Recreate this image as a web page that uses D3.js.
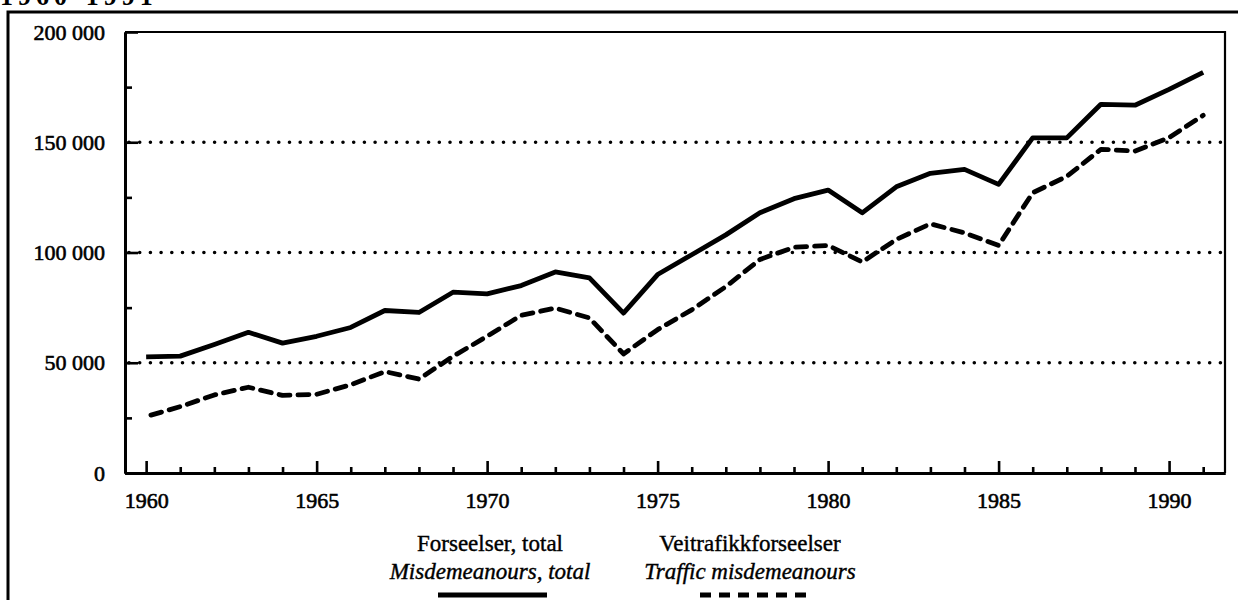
<!DOCTYPE html>
<html>
<head>
<meta charset="utf-8">
<script src="https://cdn.jsdelivr.net/npm/d3@7"></script>
<style>
  html, body { margin: 0; padding: 0; background: #fff; overflow: hidden; }
  svg { display: block; font-family: "Liberation Serif", "Times New Roman", serif; }
</style>
</head>
<body>
<div id="chart"></div>
<script>
// --- data ---
const years = d3.range(1960, 1992);
const totalMisdemeanours = [
  52700, 53000, 58300, 63800, 58900, 62000, 66000, 73700, 72800, 82000,
  81200, 85000, 91200, 88500, 72500, 90000, 99000, 108000, 118000, 124400,
  128300, 118000, 129800, 135900, 137700, 130900, 152000, 152000, 167200, 166800,
  174000, 181700
];
const trafficMisdemeanours = [
  25600, 30100, 35400, 38900, 35200, 35700, 40000, 46000, 42600, 52900,
  62000, 71500, 74800, 70300, 54000, 65000, 74000, 84500, 96800, 102400,
  103200, 95700, 105900, 113000, 108900, 103200, 127100, 134500, 146800, 146000,
  152100, 162200
];
const yMajorTicks = [0, 50000, 100000, 150000, 200000];
const yMinorTicks = [25000, 75000, 125000, 175000];
const yGridTicks = [50000, 100000, 150000];
const xMajorTicks = [1960, 1965, 1970, 1975, 1980, 1985, 1990];
const legendItems = [
  { no: "Forseelser, total", en: "Misdemeanours, total", dash: null },
  { no: "Veitrafikkforseelser", en: "Traffic misdemeanours", dash: "11 8" }
];

// --- layout ---
const width = 1238, height = 600;
const plot = { left: 125, right: 1225, top: 32, bottom: 473 };

const svg = d3.select("#chart").append("svg")
  .attr("width", width)
  .attr("height", height);

// outer frame (runs off the page on right and bottom)
svg.append("path")
  .attr("d", `M8,${height + 10} L8,12 L${width + 10},12`)
  .attr("fill", "none")
  .attr("stroke", "#000")
  .attr("stroke-width", 3);

// heading, cut off at the top edge as in the scan
svg.append("text")
  .attr("x", 0)
  .attr("y", 5)
  .attr("font-size", 26)
  .attr("font-weight", "bold")
  .attr("letter-spacing", 5)
  .text("1960-1991");

// scales
const x = d3.scaleLinear().domain([1959.38, 1991.64]).range([plot.left, plot.right]);
const y = d3.scaleLinear().domain([0, 200000]).range([plot.bottom, plot.top]);

// dotted gridlines
svg.append("g")
  .selectAll("line")
  .data(yGridTicks)
  .join("line")
  .attr("x1", plot.left + 4)
  .attr("x2", plot.right - 4)
  .attr("y1", d => y(d))
  .attr("y2", d => y(d))
  .attr("stroke", "#000")
  .attr("stroke-width", 3.6)
  .attr("stroke-linecap", "round")
  .attr("stroke-dasharray", "0 10.7");

// top and right frame of the plot
svg.append("path")
  .attr("d", `M${plot.left},${plot.top} L${plot.right},${plot.top} L${plot.right},${plot.bottom}`)
  .attr("fill", "none")
  .attr("stroke", "#000")
  .attr("stroke-width", 2.2);

// y axis: ticks point into the plot
const fmt = d => d === 0 ? "0" : d3.format(",")(d).replace(/,/g, " ");
const yAxisMajor = svg.append("g")
  .attr("transform", `translate(${plot.left},0)`)
  .call(d3.axisLeft(y).tickValues(yMajorTicks).tickSizeInner(-13).tickSizeOuter(0).tickPadding(20).tickFormat(fmt));
const yAxisMinor = svg.append("g")
  .attr("transform", `translate(${plot.left},0)`)
  .call(d3.axisLeft(y).tickValues(yMinorTicks).tickSizeInner(-7).tickSizeOuter(0).tickFormat(""));

// x axis: ticks point up
const xAxisMajor = svg.append("g")
  .attr("transform", `translate(0,${plot.bottom})`)
  .call(d3.axisBottom(x).tickValues(xMajorTicks).tickSizeInner(-12).tickSizeOuter(0).tickPadding(19).tickFormat(d3.format("d")));
const xAxisMinor = svg.append("g")
  .attr("transform", `translate(0,${plot.bottom})`)
  .call(d3.axisBottom(x).tickValues(years.filter(d => d % 5 !== 0)).tickSizeInner(-6).tickSizeOuter(0).tickFormat(""));

[yAxisMajor, yAxisMinor, xAxisMajor, xAxisMinor].forEach(g => {
  g.selectAll(".domain").attr("stroke", "#000").attr("stroke-width", 3);
  g.selectAll(".tick line").attr("stroke", "#000").attr("stroke-width", 2.6);
  g.selectAll("text")
    .attr("fill", "#000")
    .attr("stroke", "#000")
    .attr("stroke-width", 0.6)
    .attr("font-size", 22)
    .attr("font-family", "'Liberation Serif', serif");
});

// series
const line = d3.line()
  .x((d, i) => x(years[i]))
  .y(d => y(d));

svg.append("path")
  .datum(trafficMisdemeanours)
  .attr("d", line)
  .attr("fill", "none")
  .attr("stroke", "#000")
  .attr("stroke-width", 4.8)
  .attr("stroke-linejoin", "round")
  .attr("stroke-linecap", "round")
  .attr("stroke-dasharray", "11 8")
  .attr("stroke-dashoffset", 14);

svg.append("path")
  .datum(totalMisdemeanours)
  .attr("d", line)
  .attr("fill", "none")
  .attr("stroke", "#000")
  .attr("stroke-width", 4.8)
  .attr("stroke-linejoin", "round");

// legend
const legendX = [490, 750];
const legend = svg.append("g")
  .selectAll("g")
  .data(legendItems)
  .join("g")
  .attr("transform", (d, i) => `translate(${legendX[i]},0)`);

legend.append("text")
  .attr("y", 551)
  .attr("text-anchor", "middle")
  .attr("font-size", 23)
  .attr("stroke", "#000")
  .attr("stroke-width", 0.4)
  .text(d => d.no);

legend.append("text")
  .attr("y", 579)
  .attr("text-anchor", "middle")
  .attr("font-size", 23)
  .attr("font-style", "italic")
  .attr("stroke", "#000")
  .attr("stroke-width", 0.4)
  .text(d => d.en);

legend.append("line")
  .attr("x1", (d, i) => i === 0 ? -52 : -50)
  .attr("x2", (d, i) => i === 0 ? 57 : 58)
  .attr("y1", 595)
  .attr("y2", 595)
  .attr("stroke", "#000")
  .attr("stroke-width", 4.8)
  .attr("stroke-dasharray", d => d.dash);
</script>
</body>
</html>
